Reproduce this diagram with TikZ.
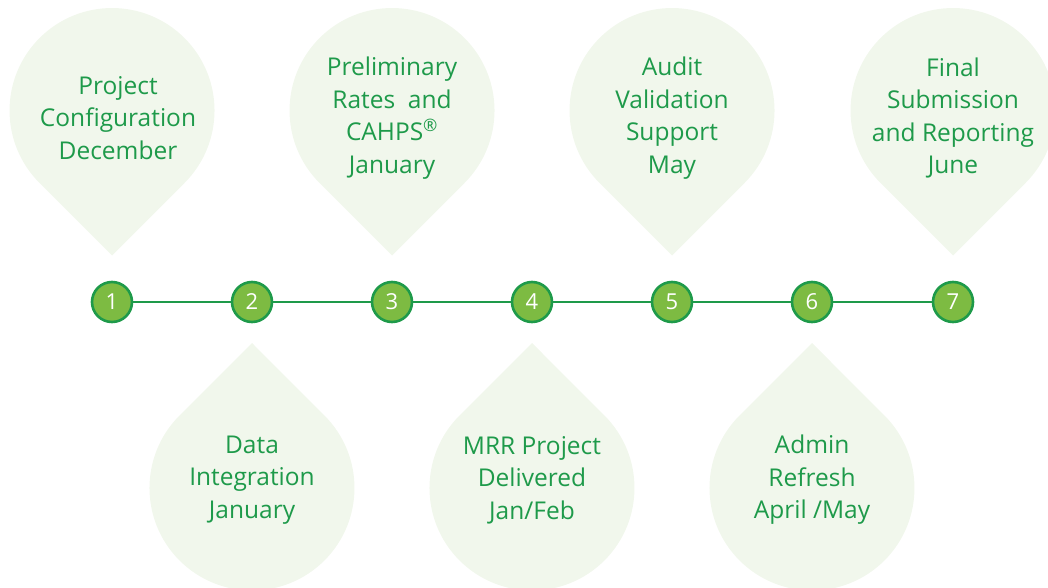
\documentclass[tikz,border=0pt]{standalone}
\usepackage{fontspec}
\setmainfont{Open Sans}
\definecolor{pinfill}{HTML}{F1F7EC}
\definecolor{dgreen}{HTML}{1E9A4A}
\definecolor{lgreen}{HTML}{7DBB42}
\tikzset{
  x=1pt, y=-1pt,
  pinshape/.style={fill=pinfill, draw=none},
  pintext/.style={text=dgreen, align=center, font=\fontsize{24.5}{32.5}\selectfont, inner sep=0pt},
  numdot/.style={circle, fill=lgreen, draw=dgreen, line width=2.6pt, minimum size=40pt, inner sep=0pt, text=white, font=\fontsize{22}{22}\selectfont},
  timeline/.style={draw=dgreen, line width=2.8pt}
}
\newcommand{\toppin}[2]{% cx, cy (image coords)
  \fill[pinshape] (#1,#2+145) -- ($(#1,#2)+(72.5,72.5)$) arc[start angle=-45, end angle=225, radius=102.5pt] -- cycle;}
\newcommand{\botpin}[2]{%
  \fill[pinshape] (#1,#2-145) -- ($(#1,#2)+(-72.5,-72.5)$) arc[start angle=135, end angle=405, radius=102.5pt] -- cycle;}
\usetikzlibrary{calc}
\begin{document}
\begin{tikzpicture}
\useasboundingbox (0,0) rectangle (1048,588);
\clip (0,0) rectangle (1048,588);
% pins
\foreach \cx in {112,392,672,953} {\toppin{\cx}{110.5}}
\foreach \cx in {252,532,812} {\botpin{\cx}{488}}
% texts
\node[pintext] (t1) at (118,118) {Project\\Configuration\\December};
\node[pintext] (t3) at (392,118) {Preliminary\\Rates\ \ and\\CAHPS\textsuperscript{\textregistered}\\January};
\node[pintext] (t5) at (672,118) {Audit\\Validation\\Support\\May};
\node[pintext] (t7) at (953,118) {Final\\Submission\\and Reporting\\June};
\node[pintext] (t2) at (252,480) {Data\\Integration\\January};
\node[pintext] (t4) at (532,480) {MRR Project\\Delivered\\Jan/Feb};
\node[pintext] (t6) at (812,480) {Admin\\Refresh\\April /May};
% numbered dots
\node[numdot] (n1) at (112,302) {1};
\node[numdot] (n2) at (252,302) {2};
\node[numdot] (n3) at (392,302) {3};
\node[numdot] (n4) at (532,302) {4};
\node[numdot] (n5) at (672,302) {5};
\node[numdot] (n6) at (812,302) {6};
\node[numdot] (n7) at (953,302) {7};
\foreach \a/\b in {n1/n2,n2/n3,n3/n4,n4/n5,n5/n6,n6/n7}
  \draw[timeline] (\a) -- (\b);
\end{tikzpicture}
\end{document}
